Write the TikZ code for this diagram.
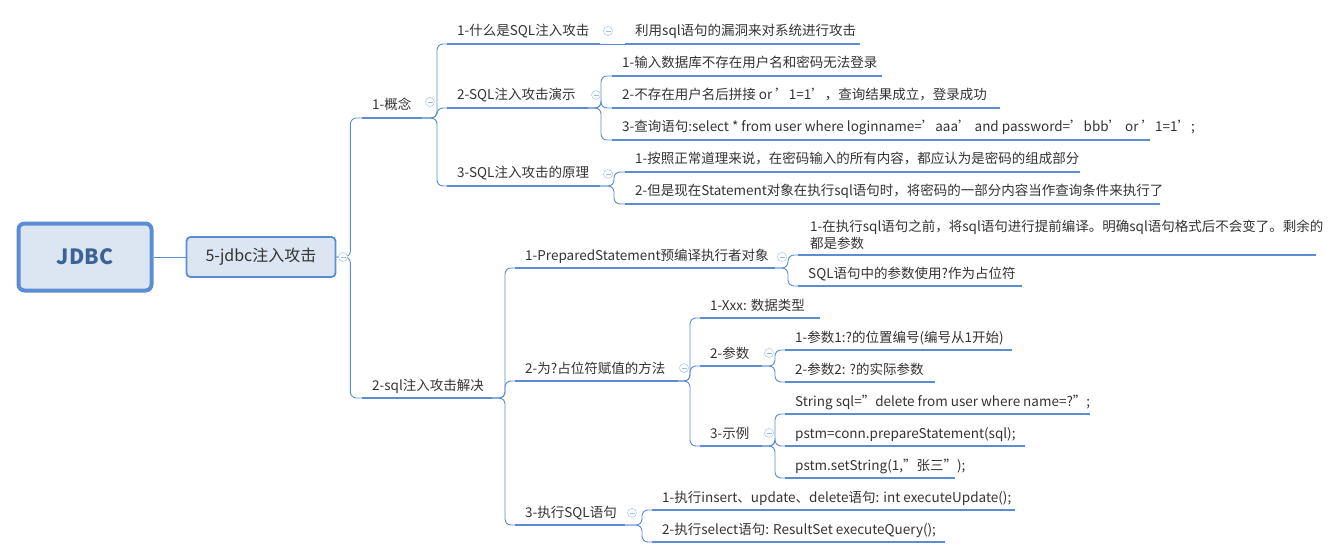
\documentclass[tikz,border=0pt]{standalone}
\usepackage{fontspec}
\setmainfont{Noto Sans CJK SC}
\usetikzlibrary{calc}
\definecolor{ln}{HTML}{5B8DD3}
\definecolor{bx}{HTML}{DCE6F2}
\definecolor{tx}{HTML}{333333}
\definecolor{jd}{HTML}{3D6296}
\tikzset{
 uline/.style={draw=ln,line width=2.6pt},
 conn/.style={draw=ln,line width=0.9pt,rounded corners=6pt},
 lbl/.style={anchor=base west,inner sep=0pt,text=tx,font=\fontsize{13.5}{17}\selectfont},
 tog/.style={circle,draw=ln!45,line width=0.6pt,minimum size=9pt,inner sep=0pt,fill=white,
   path picture={\draw[ln!60,line width=0.6pt] ([xshift=-2.5pt]path picture bounding box.center) -- ([xshift=2.5pt]path picture bounding box.center);}}
}
% \tp{name}{x1}{x2}{y}{text}
\newcommand{\tp}[5]{%
 \coordinate (#1-s) at (#2,#4); \coordinate (#1-e) at (#3,#4);
 \draw[uline] (#1-s) -- (#1-e);
 \node[lbl] (#1) at ({#2+10},{#4-8}) {#5};}
\newcommand{\br}[3]{\draw[conn] (#1-e) -- ($(#1-e)+(#2,0)$) |- (#3-s);}
\begin{document}
\begin{tikzpicture}[x=1pt,y=-1pt]
\useasboundingbox (0,0) rectangle (1334,559);
\node[draw=ln,line width=4pt,fill=bx,rounded corners=6pt,minimum width=133pt,minimum height=67pt,
 font=\fontsize{21}{24}\selectfont\bfseries,text=jd] (root) at (85,257) {JDBC};
\node[draw=ln,line width=1.8pt,fill=bx,rounded corners=4pt,minimum width=149pt,minimum height=40pt,
 font=\fontsize{16}{19}\selectfont,text=tx] (l0) at (261,257) {5-jdbc注入攻击};
\draw[draw=ln,line width=0.9pt] (root) -- (l0);
\coordinate (l0-e) at (l0.east);
% level 1
\tp{a}{362}{422}{118}{1-概念}
\tp{b}{362}{492}{398}{2-sql注入攻击解决}
\br{l0}{14}{a} \br{l0}{14}{b}
% under a
\tp{a1}{447}{600}{44}{1-什么是SQL注入攻击}
\tp{a2}{447}{588}{108}{2-SQL注入攻击演示}
\tp{a3}{447}{600}{186}{3-SQL注入攻击的原理}
\br{a}{15}{a1}\br{a}{15}{a2}\br{a}{15}{a3}
\tp{a11}{625}{860}{44}{利用sql语句的漏洞来对系统进行攻击}
\draw[conn] (a1-e) -- (a11-s);
\tp{a21}{612}{882}{76}{1-输入数据库不存在用户名和密码无法登录}
\tp{a22}{612}{1000}{108}{2-不存在用户名后拼接 or '1=1'，查询结果成立，登录成功}
\tp{a23}{612}{1150}{140}{3-查询语句:select * from user where loginname='aaa' and password='bbb' or '1=1';}
\br{a2}{13}{a21}\br{a2}{13}{a22}\br{a2}{13}{a23}
\tp{a31}{625}{1080}{172}{1-按照正常道理来说，在密码输入的所有内容，都应认为是密码的组成部分}
\tp{a32}{625}{1160}{204}{2-但是现在Statement对象在执行sql语句时，将密码的一部分内容当作查询条件来执行了}
\br{a3}{14}{a31}\br{a3}{14}{a32}
% under b
\tp{b1}{515}{775}{268}{1-PreparedStatement预编译执行者对象}
\tp{b2}{515}{678}{381}{2-为?占位符赋值的方法}
\tp{b3}{515}{625}{525}{3-执行SQL语句}
\br{b}{13}{b1}\br{b}{13}{b2}\br{b}{13}{b3}
\coordinate (b11-s) at (798,255); \coordinate (b11-e) at (1316,255);
\draw[uline] (b11-s) -- (b11-e);
\node[lbl,anchor=south west,align=left,inner sep=0pt,font=\fontsize{13.5}{17}\selectfont] (b11) at (810,250)
 {1-在执行sql语句之前，将sql语句进行提前编译。明确sql语句格式后不会变了。剩余的\\都是参数};
\tp{b12}{798}{1022}{286}{SQL语句中的参数使用?作为占位符}
\br{b1}{13}{b11}\br{b1}{13}{b12}
\tp{b21}{700}{820}{318}{1-Xxx: 数据类型}
\tp{b22}{700}{762}{366}{2-参数}
\tp{b23}{700}{762}{446}{3-示例}
\br{b2}{12}{b21}\br{b2}{12}{b22}\br{b2}{12}{b23}
\tp{b221}{785}{1012}{350}{1-参数1:?的位置编号(编号从1开始)}
\tp{b222}{785}{935}{382}{2-参数2: ?的实际参数}
\br{b22}{13}{b221}\br{b22}{13}{b222}
\tp{b231}{785}{1090}{414}{String sql="delete from user where name=?";}
\tp{b232}{785}{1025}{446}{pstm=conn.prepareStatement(sql);}
\tp{b233}{785}{955}{478}{pstm.setString(1,"张三");}
\br{b23}{13}{b231}\br{b23}{13}{b232}\br{b23}{13}{b233}
\tp{b31}{652}{1015}{510}{1-执行insert、update、delete语句: int executeUpdate();}
\tp{b32}{652}{945}{542}{2-执行select语句: ResultSet executeQuery();}
\br{b3}{17}{b31}\br{b3}{17}{b32}
% toggles
\foreach \p in {(343,257),(430,102),(608,31),(596,95),(608,174),(782,257),(684,368),(769,353),(769,433),(632,513)}
 \node[tog] at \p {};
\end{tikzpicture}
\end{document}
